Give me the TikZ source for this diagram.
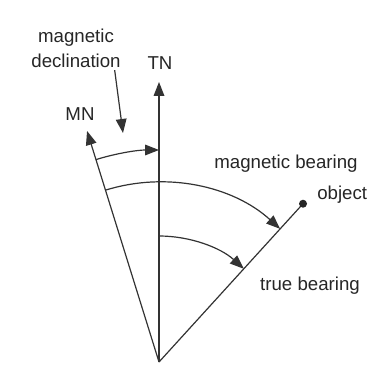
\documentclass[tikz,border=0pt]{standalone}
\usepackage{fontspec}
\setmainfont{Liberation Sans}
\usetikzlibrary{arrows.meta,positioning}
\begin{document}
\begin{tikzpicture}[x=0.75pt,y=0.75pt,
    linea/.style={black!80, line width=0.9pt},
    flecha/.style={linea, -{Triangle[length=10.5pt,width=8pt]}},
    etiqueta/.style={inner sep=0pt, text=black!85, font=\fontsize{14}{18.5}\selectfont}]

    \useasboundingbox (0,0) rectangle (388,-374);

    % 1. Punto de observacion y direcciones (norte verdadero, norte magnetico, objeto)
    \coordinate (O) at (159,-362);
    \path (O) ++(90:280) coordinate (TN);
    \path (O) ++(107.3:242) coordinate (MN);
    \path (O) ++(47.7:214) coordinate (obj);

    % 2. Dibujar las tres semirrectas
    \draw[flecha] (O) -- (TN);
    \draw[flecha] (O) -- (MN);
    \draw[linea] (O) -- (obj);
    \fill[black!85] (obj) circle (4);

    % 3. Arcos de declinacion y rumbos
    \draw[flecha] (O) ++(107.3:212) arc[start angle=107.3, end angle=90, radius=212];
    \draw[flecha] (O) ++(107.3:180) arc[start angle=107.3, end angle=47.7, radius=180];
    \draw[flecha] (O) ++(90:126) arc[start angle=90, end angle=47.7, radius=126];

    % 4. Etiquetas
    \node[etiqueta, anchor=base] (tnlbl) at (160,-70) {TN};
    \node[etiqueta, anchor=base] (mnlbl) at (80,-120) {MN};
    \node[etiqueta, align=center] (decl) at (76,-48) {magnetic\\declination};
    \node[etiqueta, anchor=base] (mblbl) at (286,-168) {magnetic bearing};
    \node[etiqueta, anchor=base west] (objlbl) at (317,-199) {object};
    \node[etiqueta, anchor=base] (tblbl) at (310,-290) {true bearing};

    % 5. Flecha de la declinacion
    \coordinate (declpunta) at (123,-133);
    \draw[flecha] ([xshift=29pt,yshift=-2pt]decl.south) -- (declpunta);

\end{tikzpicture}
\end{document}
